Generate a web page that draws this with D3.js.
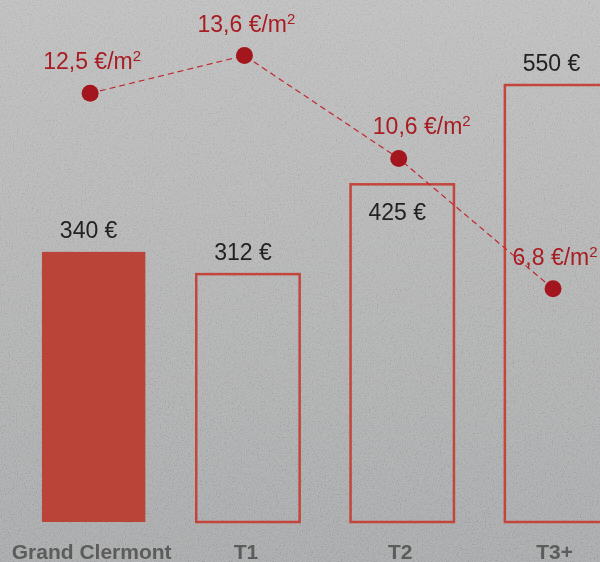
<!DOCTYPE html>
<html>
<head>
<meta charset="utf-8">
<script src="https://cdn.jsdelivr.net/npm/d3@7"></script>
<style>
  html, body { margin: 0; padding: 0; background: #b2b2b2; }
  svg { display: block; }
</style>
</head>
<body>
<svg id="chart" width="600" height="562"></svg>
<script>
// Average monthly rent by dwelling type, with rent per square metre
const categories = ["Grand Clermont", "T1", "T2", "T3+"];
const rents = [340, 312, 425, 550];          // € per month
const rentPerM2 = [12.5, 13.6, 10.6, 6.8];   // € per m²

const W = 600, H = 562;
const svg = d3.select("#chart");

// Background: soft vertical grey gradient with a fine grain
const defs = svg.append("defs");
const grad = defs.append("linearGradient")
  .attr("id", "bg").attr("x1", 0).attr("y1", 0).attr("x2", 0).attr("y2", 1);
grad.append("stop").attr("offset", "0%").attr("stop-color", "#bebebe");
grad.append("stop").attr("offset", "100%").attr("stop-color", "#a8a9aa");

const grain = defs.append("filter").attr("id", "grain")
  .attr("x", 0).attr("y", 0).attr("width", "100%").attr("height", "100%");
grain.append("feTurbulence").attr("type", "fractalNoise")
  .attr("baseFrequency", 0.75).attr("numOctaves", 2).attr("seed", 3).attr("result", "n");
// grey noise centred on mid-grey, so it lightens and darkens evenly
grain.append("feColorMatrix").attr("in", "n").attr("type", "matrix")
  .attr("values", "2.2 0 0 0 -0.6  2.2 0 0 0 -0.6  2.2 0 0 0 -0.6  0 0 0 0 1");

svg.append("rect").attr("width", W).attr("height", H).attr("fill", "url(#bg)");
svg.append("rect").attr("width", W).attr("height", H).attr("filter", "url(#grain)")
  .style("mix-blend-mode", "overlay")
  .attr("opacity", 0.12);

// Scales
const x = d3.scaleBand()
  .domain(categories)
  .range([16.5, 633.7])
  .paddingInner(0.33)
  .paddingOuter(0.165);

const yRent = d3.scaleLinear().domain([0, 657]).range([522, 0]);
const yM2 = d3.scaleLinear().domain([0, 15.22]).range([522, 0]);

const rows = categories.map((c, i) => ({ cat: c, rent: rents[i], m2: rentPerM2[i], i }));

const red = "#b94437";
const outline = "#c4453b";
const lineRed = "#a3161d";
const font = "Liberation Sans, Arial, sans-serif";

// Bars: the reference area is filled, dwelling types are outlined
svg.append("g").selectAll("rect")
  .data(rows)
  .join("rect")
  .attr("x", d => x(d.cat))
  .attr("y", d => yRent(d.rent))
  .attr("width", x.bandwidth())
  .attr("height", d => yRent(0) - yRent(d.rent))
  .attr("fill", d => d.i === 0 ? red : "none")
  .attr("stroke", d => d.i === 0 ? "none" : outline)
  .attr("stroke-width", 2.5);

// Rent labels (the T2 label sits inside its bar, clear of the line)
svg.append("g").selectAll("text")
  .data(rows)
  .join("text")
  .attr("x", d => x(d.cat) + x.bandwidth() / 2 - 5)
  .attr("y", d => d.cat === "T2" ? yRent(d.rent) + 36 : yRent(d.rent) - 14)
  .attr("text-anchor", "middle")
  .attr("font-family", font)
  .attr("font-size", 23)
  .attr("fill", "#222")
  .text(d => d.rent + " €");

// Rent per m² line
const px = d => x(d.cat) + x.bandwidth() / 2 - 3.5;
const line = d3.line().x(px).y(d => yM2(d.m2));

svg.append("path")
  .datum(rows)
  .attr("d", line)
  .attr("fill", "none")
  .attr("stroke", "#c0282e")
  .attr("stroke-width", 1.2)
  .attr("stroke-dasharray", "6,4");

svg.append("g").selectAll("circle")
  .data(rows)
  .join("circle")
  .attr("cx", px)
  .attr("cy", d => yM2(d.m2))
  .attr("r", 8.5)
  .attr("fill", lineRed);

const fmt = v => v.toFixed(1).replace(".", ",") + " €/m";
const m2Labels = svg.append("g").selectAll("text")
  .data(rows)
  .join("text")
  .attr("x", d => px(d) + (d.cat === "T2" ? 23 : 2))
  .attr("y", d => yM2(d.m2) - 24)
  .attr("text-anchor", "middle")
  .attr("font-family", font)
  .attr("font-size", 23)
  .attr("fill", "#a81c22");
m2Labels.append("tspan").text(d => fmt(d.m2));
m2Labels.append("tspan").attr("font-size", 15).attr("dy", -8).text("2");

// Category axis labels
svg.append("g").selectAll("text")
  .data(rows)
  .join("text")
  .attr("x", d => x(d.cat) + x.bandwidth() / 2 - 2)
  .attr("y", 559)
  .attr("text-anchor", "middle")
  .attr("font-family", font)
  .attr("font-weight", "bold")
  .attr("font-size", 21)
  .attr("fill", "#5c5c5c")
  .text(d => d.cat);
</script>
</body>
</html>
